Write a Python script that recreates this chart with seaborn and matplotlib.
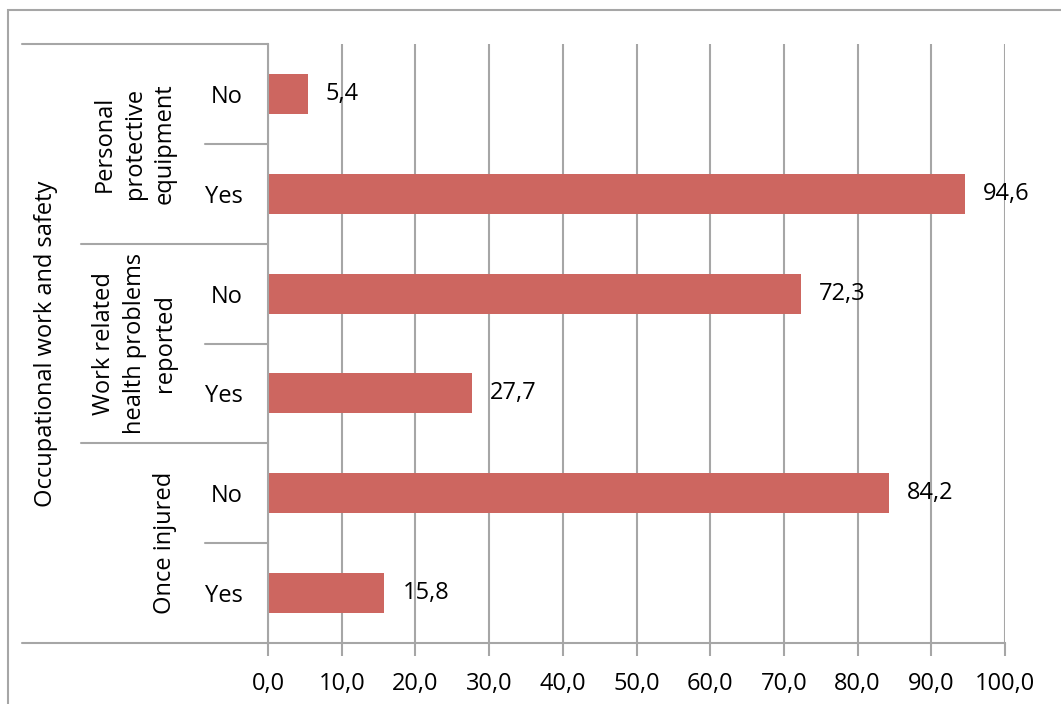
import matplotlib
matplotlib.use("Agg")
import matplotlib.pyplot as plt
import seaborn as sns
import pandas as pd
from matplotlib.patches import Rectangle
from matplotlib.ticker import FuncFormatter, MultipleLocator
import matplotlib.transforms as mtransforms

# ---- data ----
groups = ["Personal\nprotective\nequipment", "Work related\nhealth problems\nreported", "Once injured"]
answers = ["No", "Yes"]
values = [5.4, 94.6, 72.3, 27.7, 84.2, 15.8]
outer_label = "Occupational work and safety"

rows = []
i = 0
for g in groups:
    for a in answers:
        rows.append({"key": f"{g}|{a}", "group": g, "answer": a, "value": values[i]})
        i += 1
df = pd.DataFrame(rows)

sns.set_theme(style="white")
plt.rcParams["font.family"] = ["Open Sans", "DejaVu Sans"]
plt.rcParams["text.color"] = "black"
plt.rcParams["xtick.labelcolor"] = "black"
plt.rcParams["ytick.labelcolor"] = "black"
FS = 17
GRID = "#a6a6a6"
BAR = "#cd6660"

fig = plt.figure(figsize=(10.61, 7.04), dpi=100)
ax = fig.add_axes([268/1061, 1-643/704, (1005-268)/1061, (643-44)/704])

sns.barplot(data=df, y="key", x="value", orient="h", order=list(df["key"]),
            color=BAR, saturation=1, width=0.4, ax=ax, edgecolor="none")

ax.set_xlim(0, 100)
ax.set_ylim(len(df) - 0.5, -0.5)
ax.xaxis.set_major_locator(MultipleLocator(10))
ax.xaxis.set_major_formatter(FuncFormatter(lambda v, p: f"{v:.1f}".replace(".", ",")))
ax.grid(axis="x", color=GRID, linewidth=1.5)
ax.grid(axis="y", visible=False)
ax.set_axisbelow(True)
for s in ["top", "right"]:
    ax.spines[s].set_visible(False)
for s in ["left", "bottom"]:
    ax.spines[s].set_color(GRID)
    ax.spines[s].set_linewidth(1.5)

ax.tick_params(axis="x", which="major", bottom=True, length=9, width=1.5, color=GRID,
               labelsize=FS, pad=12, labelcolor="black")
ax.set_yticks(range(len(df)))
ax.set_yticklabels(list(df["answer"]), fontsize=FS)
ax.tick_params(axis="y", length=0, pad=18, labelcolor="black")
ax.set_xlabel("")
ax.set_ylabel("")

# data labels
for idx, v in enumerate(df["value"]):
    ax.annotate(f"{v:.1f}".replace(".", ","), (v, idx), xytext=(13, 0),
                textcoords="offset points", va="center", ha="left", fontsize=FS,
                color="black")

# multi-level category axis lines
trans = mtransforms.blended_transform_factory(ax.transAxes, ax.transData)
n = len(df)
na = len(answers)
line_kw = dict(color=GRID, linewidth=1.5, clip_on=False, transform=trans)
for k in range(n + 1):
    yb = k - 0.5
    if k == 0 or k == n:
        x0 = (22 - 268) / 737
    elif k % na == 0:
        x0 = (81 - 268) / 737
    else:
        x0 = (205 - 268) / 737
    ax.plot([x0, 0], [yb, yb], **line_kw)

# group labels
for gi, g in enumerate(groups):
    yc = gi * na + (na - 1) / 2
    ax.text((177 - 268) / 737, yc, g, rotation=90, ha="right", va="center",
            multialignment="center", fontsize=FS, transform=trans, linespacing=1.35,
            color="black")

ax.text((58 - 268) / 737, (n - 1) / 2, outer_label, rotation=90, ha="right", va="center",
        fontsize=FS, transform=trans, color="black")

# outer chart border
fig.patches.append(Rectangle((8/1061, -0.05), 1.2, 1.05 - 10/704, transform=fig.transFigure,
                             fill=False, edgecolor=GRID, linewidth=1.5))

fig.savefig("out.png", dpi=100)
